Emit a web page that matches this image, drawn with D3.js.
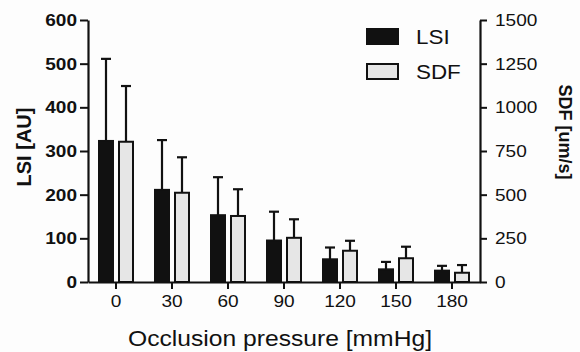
<!DOCTYPE html>
<html>
<head>
<meta charset="utf-8">
<script src="https://cdn.jsdelivr.net/npm/d3@7"></script>
<style>
  html, body { margin: 0; padding: 0; background: #fdfdfd; }
  svg { display: block; font-family: "Liberation Sans", Arial, sans-serif; }
</style>
</head>
<body>
<svg id="chart" width="580" height="352"></svg>
<script>
// ---- data ----
const categories = ["0", "30", "60", "90", "120", "150", "180"];
const seriesNames = ["LSI", "SDF"];
const lsiMean = [323, 211, 153, 95, 52, 29, 26];
const lsiSD   = [188, 114, 87, 66, 27, 17, 11];
const sdfMean = [803, 511, 378, 253, 179, 136, 53];
const sdfSD   = [319, 203, 153, 106, 57, 66, 44];
const leftTicks  = [0, 100, 200, 300, 400, 500, 600];
const rightTicks = [0, 250, 500, 750, 1000, 1250, 1500];

const xTitle = "Occlusion pressure [mmHg]";
const yLeftTitle = "LSI [AU]";
const yRightTitle = "SDF [um/s]";

// ---- layout ----
const svg = d3.select("#chart");
const X0 = 88, X1 = 480, Y0 = 282, Y1 = 20;
const SX = 1.12; // horizontal stretch of the reference glyphs
const font = '"Liberation Sans", Arial, sans-serif';

const x = d3.scaleBand().domain(categories).range([X0, X1]);
const xs = d3.scaleBand().domain(seriesNames).range([-17, 17]).paddingInner(0.3);
const yL = d3.scaleLinear().domain([0, 600]).range([Y0, Y1]);
const yR = d3.scaleLinear().domain([0, 1500]).range([Y0, Y1]);

function stretch(sel) {
  sel.each(function () {
    const L = this.getComputedTextLength();
    if (L > 0) {
      d3.select(this).attr("textLength", L * SX).attr("lengthAdjust", "spacingAndGlyphs");
    }
  });
}

const data = categories.map((c, i) => ({
  cat: c,
  vals: [
    { s: "LSI", v: lsiMean[i], sd: lsiSD[i], y: yL, fill: "#111" },
    { s: "SDF", v: sdfMean[i], sd: sdfSD[i], y: yR, fill: "#e6e6e6" }
  ]
}));

// ---- bars ----
const groups = svg.append("g").selectAll("g").data(data).join("g")
  .attr("transform", d => `translate(${x(d.cat) + x.bandwidth() / 2},0)`);

// error bars (upward only)
groups.selectAll("g.err").data(d => d.vals).join("g").attr("class", "err")
  .each(function (d) {
    const g = d3.select(this);
    const cx = xs(d.s) + xs.bandwidth() / 2;
    g.append("line").attr("x1", cx).attr("x2", cx)
      .attr("y1", d.y(d.v)).attr("y2", d.y(d.v + d.sd))
      .attr("stroke", "#111").attr("stroke-width", 2.2);
    g.append("line").attr("x1", cx - 5).attr("x2", cx + 5)
      .attr("y1", d.y(d.v + d.sd)).attr("y2", d.y(d.v + d.sd))
      .attr("stroke", "#111").attr("stroke-width", 2.2);
  });

groups.selectAll("rect").data(d => d.vals).join("rect")
  .attr("x", d => xs(d.s))
  .attr("width", xs.bandwidth())
  .attr("y", d => d.y(d.v))
  .attr("height", d => Y0 - d.y(d.v))
  .attr("fill", d => d.fill)
  .attr("stroke", "#111")
  .attr("stroke-width", 2);

// ---- axes ----
const axisL = svg.append("g").attr("transform", `translate(${X0},0)`)
  .call(d3.axisLeft(yL).tickValues(leftTicks).tickFormat(d3.format("d"))
    .tickSize(8).tickPadding(3).tickSizeOuter(0));
axisL.selectAll("text").attr("font-size", 17).attr("font-weight", "bold")
  .attr("font-family", font).attr("fill", "#111").call(stretch);

const axisR = svg.append("g").attr("transform", `translate(${X1},0)`)
  .call(d3.axisRight(yR).tickValues(rightTicks).tickFormat(d3.format("d"))
    .tickSize(7).tickPadding(8).tickSizeOuter(0));
axisR.selectAll("text").attr("font-size", 17).attr("font-family", font)
  .attr("fill", "#111").call(stretch);

const axisB = svg.append("g").attr("transform", `translate(0,${Y0})`)
  .call(d3.axisBottom(x).tickSize(7).tickPadding(6).tickSizeOuter(0));
axisB.selectAll("text").attr("font-size", 17).attr("font-family", font)
  .attr("fill", "#111").call(stretch);

[axisL, axisR, axisB].forEach(a => {
  a.select(".domain").attr("stroke", "#111").attr("stroke-width", 2.2);
  a.selectAll(".tick line").attr("stroke", "#111").attr("stroke-width", 2);
});

// ---- titles ----
svg.append("text").attr("x", 280).attr("y", 346).attr("text-anchor", "middle")
  .attr("font-size", 22).attr("font-family", font).attr("fill", "#111")
  .text(xTitle).call(stretch);

svg.append("text").attr("transform", "translate(31,147) rotate(-90)")
  .attr("text-anchor", "middle").attr("font-size", 20).attr("font-weight", "bold")
  .attr("font-family", font).attr("fill", "#111").text(yLeftTitle);

svg.append("text").attr("transform", "translate(559,132) rotate(90)")
  .attr("text-anchor", "middle").attr("font-size", 18).attr("font-weight", "bold")
  .attr("font-family", font).attr("fill", "#111").text(yRightTitle);

// ---- legend ----
const legendFill = ["#111", "#e6e6e6"];
const leg = svg.append("g").selectAll("g").data(seriesNames).join("g")
  .attr("transform", (d, i) => `translate(367,${29 + i * 35})`);
leg.append("rect").attr("width", 31).attr("height", 15)
  .attr("fill", (d, i) => legendFill[i]).attr("stroke", "#111").attr("stroke-width", 2);
leg.append("text").attr("x", 49).attr("y", 15).attr("font-size", 20)
  .attr("font-family", font).attr("fill", "#111").text(d => d).call(stretch);
</script>
</body>
</html>
